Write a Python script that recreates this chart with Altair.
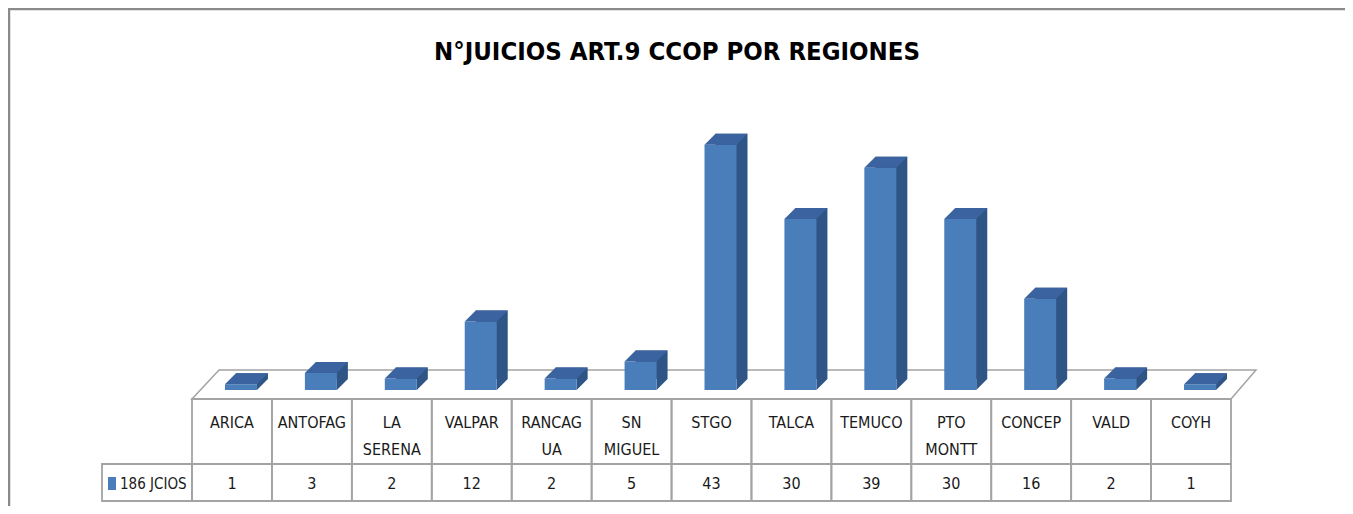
import altair as alt
import pandas as pd

# ---------------- data ----------------
TITLE = "N°JUICIOS ART.9 CCOP POR REGIONES"
SERIES_NAME = "186 JCIOS"
REGION_LABELS = ["ARICA", "ANTOFAG", "LA\nSERENA", "VALPAR", "RANCAG\nUA", "SN\nMIGUEL",
                 "STGO", "TALCA", "TEMUCO", "PTO\nMONTT", "CONCEP", "VALD", "COYH"]
JUICIOS = [1, 3, 2, 12, 2, 5, 43, 30, 39, 30, 16, 2, 1]

keys = [l.replace("\n", " ") for l in REGION_LABELS]
line1 = [l.split("\n")[0] for l in REGION_LABELS]
line2 = [l.split("\n")[1] if "\n" in l else "" for l in REGION_LABELS]
df = pd.DataFrame({"region": keys, "line1": line1, "line2": line2, "n": JUICIOS})
one = pd.DataFrame({"k": [0]})

# ---------------- style ----------------
W, H = 1039, 382
PAD_L, PAD_R, PAD_T, PAD_B = 184, 114, 0, 116
FONT = "DejaVu Sans Condensed, Liberation Sans Narrow, sans-serif"
FRONT, SIDE, TOP = "#4A7EBB", "#2F5587", "#3A63A0"
GRID = "#A3A3A3"
TXT = "#1a1a1a"
BW, DEPTH, SHIFT = 32, 11, 9
half = BW // 2

x = alt.X("region:N", sort=keys, axis=None,
          scale=alt.Scale(type="band", paddingInner=0, paddingOuter=0))
yscale = alt.Scale(domain=[0, 67], nice=False, zero=True)
y = alt.Y("n:Q", axis=None, scale=yscale)

base = alt.Chart(df).encode(x=x)
deco = alt.Chart(one)

border = deco.mark_rect(fillOpacity=0, stroke="#8A8A8A", strokeWidth=2.5).encode(
    x=alt.value(-PAD_L + 1), x2=alt.value(W + PAD_R + 20),
    y=alt.value(1), y2=alt.value(H + PAD_B + 20))

floor_path = f"M0,0 L{W},0 L{W + 25},-29 L27,-29 Z"
floor = deco.mark_point(shape=floor_path, size=4, filled=True, fill="white",
                        stroke=GRID, strokeWidth=1.5, opacity=1).encode(
    x=alt.value(0), y=alt.value(H + 9))

side = base.mark_bar(width=BW, xOffset=SHIFT + DEPTH, yOffset=-DEPTH, y2Offset=-DEPTH,
                     color=SIDE).encode(y=y)
tri = base.transform_calculate(zero="0").mark_point(
    shape=f"M{half},-{DEPTH} L{half + DEPTH},-{DEPTH} L{half},0 Z",
    size=4, filled=True, opacity=1, color=SIDE, strokeWidth=0,
    xOffset=SHIFT).encode(y=alt.Y("zero:Q", axis=None, scale=yscale))
front = base.mark_bar(width=BW, xOffset=SHIFT, color=FRONT).encode(y=y)
top = base.mark_point(shape=f"M-{half},0 L{half},0 L{half + DEPTH},-{DEPTH} L{-half + DEPTH},-{DEPTH} Z",
                      size=4, filled=True, opacity=1, color=TOP, strokeWidth=0,
                      xOffset=SHIFT).encode(y=y)

head_cells = base.mark_rect(fillOpacity=0, stroke=GRID, strokeWidth=1.8).encode(
    y=alt.value(H + 9), y2=alt.value(H + 74))
val_cells = base.mark_rect(fillOpacity=0, stroke=GRID, strokeWidth=1.8).encode(
    y=alt.value(H + 74), y2=alt.value(H + 111))
row_head = deco.mark_rect(fillOpacity=0, stroke=GRID, strokeWidth=1.8).encode(
    x=alt.value(-90), x2=alt.value(0), y=alt.value(H + 74), y2=alt.value(H + 111))
legend_sq = deco.mark_rect(color=FRONT).encode(
    x=alt.value(-84), x2=alt.value(-76), y=alt.value(H + 87), y2=alt.value(H + 100))
legend_tx = deco.mark_text(font=FONT, fontSize=15, align="left", baseline="middle",
                           color=TXT).encode(
    x=alt.value(-72), y=alt.value(H + 94), text=alt.value(SERIES_NAME))

lab1 = base.mark_text(font=FONT, fontSize=16, baseline="middle", color=TXT).encode(
    y=alt.value(H + 33), text="line1:N")
lab2 = base.mark_text(font=FONT, fontSize=16, baseline="middle", color=TXT).encode(
    y=alt.value(H + 60), text="line2:N")
vals = base.mark_text(font=FONT, fontSize=16, baseline="middle", color=TXT).encode(
    y=alt.value(H + 94), text="n:Q")

title = deco.mark_text(font=FONT, fontSize=25.5, fontWeight="bold", baseline="middle",
                       color="#000000").encode(
    x=alt.value(485), y=alt.value(44), text=alt.value(TITLE))

chart = alt.layer(
    border, floor, side, tri, front, top,
    head_cells, val_cells, row_head, legend_sq, legend_tx,
    lab1, lab2, vals, title
).properties(
    width=W, height=H,
    autosize=alt.AutoSizeParams(type="none"),
    padding={"left": PAD_L, "right": PAD_R, "top": PAD_T, "bottom": PAD_B},
    background="white",
).configure_view(strokeWidth=0)

chart.save("out.html", embed_options={"renderer": "svg", "actions": False})
